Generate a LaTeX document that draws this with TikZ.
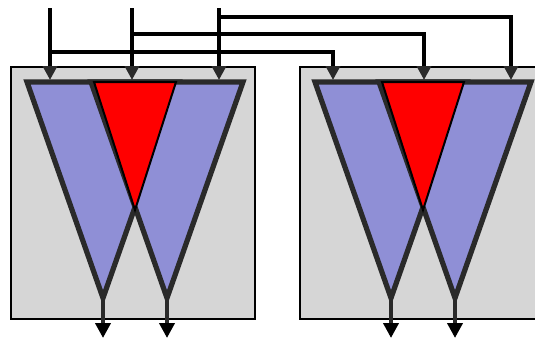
\documentclass[tikz,border=0pt]{standalone}
\usepackage{tikz}
\usetikzlibrary{positioning,arrows.meta,calc}
\definecolor{panelgray}{RGB}{214,214,214}
\definecolor{wedgeblue}{RGB}{143,143,214}
\definecolor{edgedark}{RGB}{42,42,42}

\begin{document}
\begin{tikzpicture}[x=0.5pt, y=-0.5pt,
    panel/.style={draw, line width=0.8pt, fill=panelgray, minimum width=122pt, minimum height=126pt, inner sep=0pt, outer sep=0pt, anchor=north west},
    wedge/.style={draw=edgedark, line width=2.6pt, line join=miter, fill=wedgeblue},
    core/.style={draw=black, line width=1pt, line join=miter, fill=red},
    feed/.style={line width=2.3pt, line join=miter, -{Triangle[length=7pt, width=7pt, color=edgedark]}},
    drain/.style={draw=edgedark, line width=2.2pt, -{Triangle[length=7.5pt, width=7.5pt, color=black]}}]
\useasboundingbox (0,0) rectangle (535,338);
\clip (0,0) rectangle (535,338);

% Blocks
\node[panel] (blockA) at (11,67) {};
\node[panel] (blockB) at (300,67) {};

% Left block wedges
\draw[wedge] (27,82) -- (179,82) -- (103,298) -- cycle;
\draw[wedge] (91,82) -- (243,82) -- (167,298) -- cycle;
\draw[core] (94,82) -- (176,82) -- (135,210) -- cycle;

% Right block wedges
\draw[wedge] (315,82) -- (467,82) -- (391,298) -- cycle;
\draw[wedge] (379,82) -- (531,82) -- (455,298) -- cycle;
\draw[core] (382,82) -- (464,82) -- (423,210) -- cycle;

% Inputs and ports
\coordinate (inA1) at (50,8);
\coordinate (inA2) at (132,8);
\coordinate (inA3) at (219,8);
\coordinate (portA1) at (50,80);
\coordinate (portA2) at (132,80);
\coordinate (portA3) at (219,80);
\coordinate (portB1) at (333,80);
\coordinate (portB2) at (424,80);
\coordinate (portB3) at (511,80);
\coordinate (tapA1) at (50,52);
\coordinate (tapA2) at (132,34);
\coordinate (tapA3) at (219,17);

% Outputs
\coordinate (outA1) at (103,300);
\coordinate (outA2) at (167,300);
\coordinate (outB1) at (391,300);
\coordinate (outB2) at (455,300);
\coordinate (sinkA1) at (103,338);
\coordinate (sinkA2) at (167,338);
\coordinate (sinkB1) at (391,338);
\coordinate (sinkB2) at (455,338);

% Arrows
\draw[feed] (inA1) -- (portA1);
\draw[feed] (inA2) -- (portA2);
\draw[feed] (inA3) -- (portA3);
\draw[feed] (tapA1) -| (portB1);
\draw[feed] (tapA2) -| (portB2);
\draw[feed] (tapA3) -| (portB3);

\draw[drain] (outA1) -- (sinkA1);
\draw[drain] (outA2) -- (sinkA2);
\draw[drain] (outB1) -- (sinkB1);
\draw[drain] (outB2) -- (sinkB2);

\end{tikzpicture}
\end{document}
